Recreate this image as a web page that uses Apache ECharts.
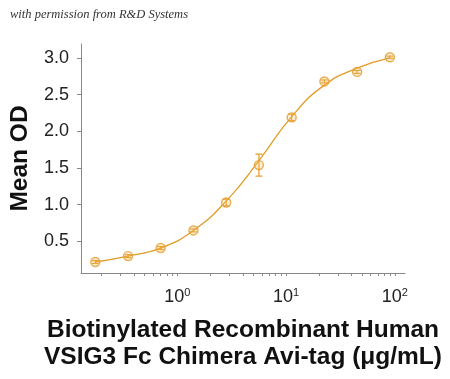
<!DOCTYPE html>
<html>
<head>
<meta charset="utf-8">
<script src="https://cdn.jsdelivr.net/npm/echarts@6/dist/echarts.min.js"></script>
<style>html,body{margin:0;padding:0;background:#fff}#c{width:450px;height:379px}</style>
</head>
<body>
<div id="c"></div>
<script>
// concentrations (µg/mL)
const conc = [0.176, 0.352, 0.703, 1.406, 2.8125, 5.625, 11.25, 22.5, 45, 90];
// mean OD
const meanOD = [0.22, 0.30, 0.41, 0.65, 1.03, 1.54, 2.19, 2.68, 2.81, 3.01];
// error (± SD)
const errOD = [0.02, 0.02, 0.02, 0.02, 0.045, 0.15, 0.045, 0.02, 0.02, 0.015];
// fitted curve values read at the same concentrations
const fitOD = [0.22, 0.30, 0.41, 0.65, 1.05, 1.60, 2.20, 2.63, 2.86, 3.00];
const yTicks = [0.5, 1.0, 1.5, 2.0, 2.5, 3.0];
const xLabels = [1, 10, 100];
const xMinorTicks = [0.2,0.3,0.4,0.5,0.6,0.7,0.8,0.9,1,2,3,4,5,6,7,8,9,10,20,30,40,50,60,70,80,90,100];

const col = '#E39B26';
const chart = echarts.init(document.getElementById('c'), null, {renderer: 'canvas'});
chart.setOption({
  animation: false,
  grid: {left: 80, right: 45, top: 44, bottom: 106},
  graphic: [{
    type: 'text', left: 10, top: 8,
    style: {text: 'with permission from R&D Systems', font: 'italic 12.5px "Liberation Serif"', fill: '#333'}
  }],
  xAxis: {
    type: 'log', min: 0.13, max: 124, logBase: 10,
    name: 'Biotinylated Recombinant Human\nVSIG3 Fc Chimera Avi-tag (\u03bcg/mL)',
    nameLocation: 'middle', nameGap: 44,
    nameTextStyle: {fontFamily: 'Liberation Sans', fontWeight: 'bold', fontSize: 24.5, lineHeight: 27, color: '#111'},
    axisLine: {lineStyle: {color: '#888', width: 1}},
    axisTick: {show: true, customValues: xMinorTicks, length: 3, lineStyle: {color: '#888'}},
    axisLabel: {
      customValues: xLabels, margin: 14,
      formatter: v => '{b|10}{s|' + Math.round(Math.log10(v)) + '}',
      rich: {
        b: {fontFamily: 'Liberation Sans', fontSize: 18, color: '#222'},
        s: {fontFamily: 'Liberation Sans', fontSize: 11, color: '#222', padding: [0, 0, 10, 0]}
      }
    },
    splitLine: {show: false}, minorTick: {show: false}
  },
  yAxis: {
    type: 'value', min: 0.07, max: 3.19,
    name: 'Mean OD', nameLocation: 'middle', nameGap: 48, nameRotate: 90,
    nameTextStyle: {fontFamily: 'Liberation Sans', fontWeight: 'bold', fontSize: 24.5, color: '#111'},
    axisLine: {show: true, lineStyle: {color: '#888', width: 1}},
    axisTick: {show: true, customValues: yTicks, length: 4, lineStyle: {color: '#888'}},
    axisLabel: {customValues: yTicks, margin: 12, fontFamily: 'Liberation Sans', fontSize: 18, color: '#222',
      formatter: v => v.toFixed(1)},
    splitLine: {show: false}
  },
  series: [
    {
      type: 'line', data: conc.map((c, i) => [c, fitOD[i]]), smooth: 0.5,
      symbol: 'none', lineStyle: {color: col, width: 1.3}, z: 2
    },
    {
      type: 'custom', z: 3,
      data: conc.map((c, i) => [c, meanOD[i] - errOD[i], meanOD[i] + errOD[i]]),
      renderItem: function (params, api) {
        const x = api.value(0);
        const lo = api.coord([x, api.value(1)]);
        const hi = api.coord([x, api.value(2)]);
        const w = 3.5;
        const st = {stroke: col, lineWidth: 1.2};
        return {type: 'group', children: [
          {type: 'line', shape: {x1: lo[0], y1: lo[1], x2: hi[0], y2: hi[1]}, style: st},
          {type: 'line', shape: {x1: lo[0]-w, y1: lo[1], x2: lo[0]+w, y2: lo[1]}, style: st},
          {type: 'line', shape: {x1: hi[0]-w, y1: hi[1], x2: hi[0]+w, y2: hi[1]}, style: st}
        ]};
      }
    },
    {
      type: 'scatter', data: conc.map((c, i) => [c, meanOD[i]]),
      symbol: 'circle', symbolSize: 9, z: 4,
      itemStyle: {color: 'rgba(245,190,110,0.35)', borderColor: col, borderWidth: 1.4}
    }
  ]
});
</script>
</body>
</html>
